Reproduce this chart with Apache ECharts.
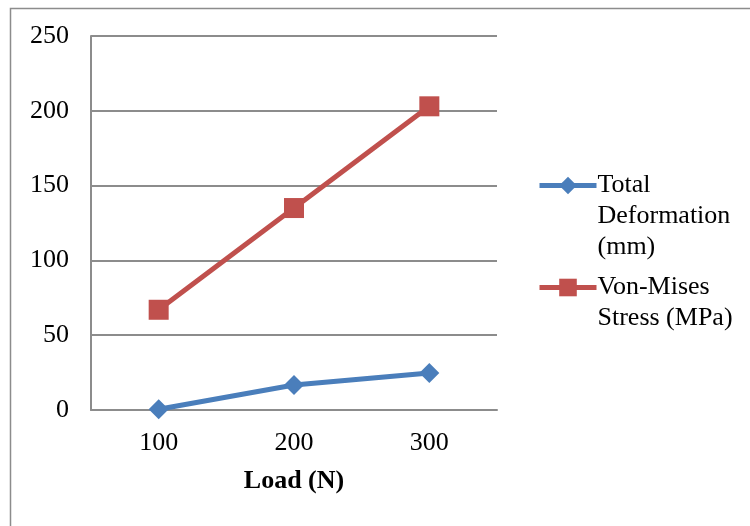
<!DOCTYPE html>
<html>
<head>
<meta charset="utf-8">
<script src="https://cdn.jsdelivr.net/npm/echarts@6/dist/echarts.min.js"></script>
<style>
  html, body { margin: 0; padding: 0; background: #fff; }
  #chart { width: 750px; height: 526px; }
</style>
</head>
<body>
<div id="chart"></div>
<script>
// Load categories and the two series
var loads = ['100', '200', '300'];
var totalDeformation = [0.5, 16.7, 24.8];
var vonMisesStress = [67, 135, 203];
var yTicks = { min: 0, max: 250, step: 50 };

// legend labels wrapped the same way as the original
var legendText = {
  'Total Deformation (mm)': '\n\nTotal\nDeformation\n(mm)',
  'Von-Mises Stress (MPa)': '\nVon-Mises\nStress (MPa)'
};

var font = '"Liberation Serif", "Times New Roman", serif';
var chart = echarts.init(document.getElementById('chart'));

chart.setOption({
  animation: false,
  textStyle: { fontFamily: font },
  graphic: [{
    type: 'rect',
    shape: { x: 10.5, y: 8.5, width: 800, height: 600 },
    style: { fill: 'none', stroke: '#8c8c8c', lineWidth: 1.5 },
    silent: true
  }],
  grid: { left: 91, right: 253, top: 36, bottom: 116 },
  legend: {
    orient: 'vertical',
    left: 537,
    top: 108,
    padding: 0,
    itemWidth: 57,
    itemHeight: 22,
    itemGap: -22,
    lineStyle: { width: 5 },
    formatter: function(name) { return legendText[name] || name; },
    textStyle: { fontFamily: font, fontSize: 26, lineHeight: 31, color: '#000', padding: [0, 0, 0, -4] },
    data: ['Total Deformation (mm)', 'Von-Mises Stress (MPa)']
  },
  xAxis: {
    type: 'category',
    data: loads,
    boundaryGap: true,
    name: 'Load (N)',
    nameLocation: 'middle',
    nameGap: 58,
    nameTextStyle: { fontFamily: font, fontSize: 26, fontWeight: 'bold', color: '#000' },
    axisLine: { lineStyle: { color: '#8c8c8c', width: 2 } },
    axisTick: { show: false },
    axisLabel: { fontFamily: font, fontSize: 26, color: '#000', margin: 20 }
  },
  yAxis: {
    type: 'value',
    min: yTicks.min,
    max: yTicks.max,
    interval: yTicks.step,
    axisLine: { show: true, lineStyle: { color: '#8c8c8c', width: 2 } },
    axisTick: { show: false },
    axisLabel: { fontFamily: font, fontSize: 26, color: '#000', margin: 22 },
    splitLine: { lineStyle: { color: '#8c8c8c', width: 2 } }
  },
  series: [
    {
      name: 'Total Deformation (mm)',
      type: 'line',
      data: totalDeformation,
      symbol: 'diamond',
      symbolSize: 20,
      color: '#4a7ebb',
      lineStyle: { width: 5, color: '#4a7ebb' },
      itemStyle: { color: '#4a7ebb' }
    },
    {
      name: 'Von-Mises Stress (MPa)',
      type: 'line',
      data: vonMisesStress,
      symbol: 'rect',
      symbolSize: 20,
      color: '#c0504d',
      lineStyle: { width: 5, color: '#c0504d' },
      itemStyle: { color: '#c0504d' }
    }
  ]
});
</script>
</body>
</html>
